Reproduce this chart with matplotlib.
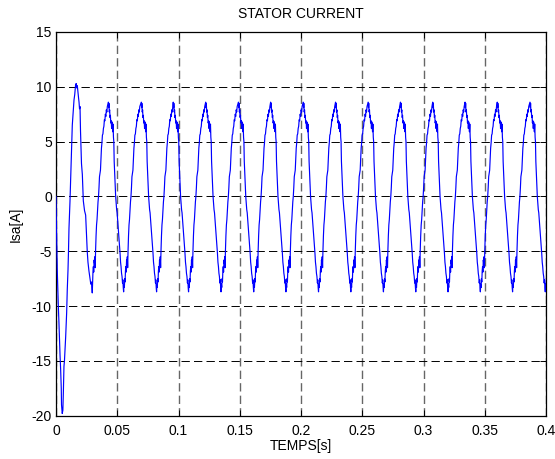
import matplotlib
matplotlib.use('Agg')
import matplotlib.pyplot as plt

plt.rcParams['font.family'] = ['Liberation Sans', 'DejaVu Sans']
plt.rcParams['lines.scale_dashes'] = False

# start-up transient (time in s, current in A)
t_start = [0, 0.0004, 0.0011, 0.0019, 0.0024, 0.0033, 0.0038, 0.0043, 0.0045, 0.0051,
           0.0056, 0.0060, 0.0065, 0.0069, 0.0079, 0.0087, 0.0092, 0.0098, 0.0102, 0.0106,
           0.0114, 0.0120, 0.0125, 0.0129, 0.0133, 0.0139, 0.0147, 0.0153, 0.0157, 0.0160,
           0.0165, 0.0169, 0.0174, 0.0180, 0.0184, 0.0188, 0.0192, 0.0196, 0.0200, 0.0204,
           0.0208, 0.0215, 0.0223, 0.0233, 0.0242, 0.0249, 0.0255, 0.0261, 0.0269, 0.0278,
           0.0284, 0.0290, 0.0296]
i_start = [0, -3.0, -7.0, -10.0, -11.5, -14.5, -15.8, -17.5, -19.0, -19.8,
           -19.5, -17.9, -15.5, -15.0, -12.8, -10.6, -8.5, -6.7, -5.0, -2.9,
           -0.5, 1.8, 3.5, 5.0, 6.5, 7.5, 8.8, 9.3, 9.8, 10.2,
           10.3, 9.9, 10.1, 9.4, 9.0, 8.6, 8.0, 8.2, 6.0, 4.5,
           3.0, 2.0, -0.4, -1.3, -1.7, -3.5, -5.0, -6.0, -6.8, -7.5,
           -8.0, -7.8, -8.8]

# times of the positive peaks of the steady-state current (s)
peak_times = [0.0162, 0.0427, 0.0696, 0.0957, 0.1222, 0.1489, 0.1752, 0.2018,
              0.2282, 0.2548, 0.2812, 0.3075, 0.3339, 0.3602, 0.3869]

# shape of one steady-state period, offsets from its peak (ms) and current (A)
cycle_offset_ms = [0.0, 0.3, 0.5, 0.8, 1.1, 1.4, 1.7, 2.0, 2.4, 2.7, 3.0, 3.3, 3.6, 3.9,
                   4.2, 4.5, 4.8, 5.1, 5.5, 6.0, 6.4, 6.8, 7.2, 7.6, 8.0, 8.4, 8.8, 9.2,
                   9.6, 10.0, 10.4, 10.8, 11.2, 11.6, 11.9, 12.2, 12.5, 12.8, 13.1, 13.4,
                   13.7, 14.0, 14.3, 14.6, 14.9, 15.2, 15.5, 15.8, 16.1, 16.5, 16.9, 17.3,
                   17.7, 18.1, 18.5, 18.9, 19.3, 19.7, 20.1, 20.5, 20.9, 21.3, 21.7, 22.1,
                   22.5, 22.9, 23.3, 23.7, 24.1, 24.5, 24.9, 25.3, 25.7]
cycle_current = [8.6, 8.1, 8.5, 7.7, 7.9, 7.2, 7.4, 6.7, 6.9, 6.2, 6.8, 6.4, 5.9, 6.6,
                 5.4, 5.0, 3.2, 2.4, 1.2, 0.0, -0.6, -1.2, -1.5, -2.1, -2.6, -3.4, -3.8, -4.6,
                 -5.2, -6.0, -6.4, -7.0, -7.3, -7.9, -7.6, -8.3, -8.7, -8.0, -8.3, -7.5,
                 -7.8, -6.8, -6.4, -6.9, -5.8, -6.1, -5.5, -6.5, -5.0, -3.6, -2.6, -2.1,
                 -1.2, -0.5, 0.0, 0.8, 1.8, 2.1, 2.4, 3.5, 4.4, 4.9, 5.6, 5.7,
                 6.2, 6.4, 7.0, 6.9, 7.5, 7.3, 7.9, 7.7, 8.2]

x_ticks = [0, 0.05, 0.1, 0.15, 0.2, 0.25, 0.3, 0.35, 0.4]
x_tick_labels = ['0', '0.05', '0.1', '0.15', '0.2', '0.25', '0.3', '0.35', '0.4']
y_ticks = [-20, -15, -10, -5, 0, 5, 10, 15]
y_tick_labels = ['-20', '-15', '-10', '-5', '0', '5', '10', '15']

# assemble the trace
pts = list(zip(t_start, i_start))
for tp in peak_times:
    for off, v in zip(cycle_offset_ms, cycle_current):
        tt = tp + off / 1000.0
        if tt > t_start[-1]:
            pts.append((tt, v))
pts.sort()
t = [p[0] for p in pts]
i = [p[1] for p in pts]

fig = plt.figure(figsize=(5.55, 4.59), dpi=100)
ax = fig.add_axes([0.1009, 0.0943, 0.8829, 0.8360])

ax.plot(t, i, color='#0000ff', linewidth=0.85, zorder=3)

ax.set_xlim(0, 0.4)
ax.set_ylim(-20, 15)
ax.set_xticks(x_ticks)
ax.set_xticklabels(x_tick_labels)
ax.set_yticks(y_ticks)
ax.set_yticklabels(y_tick_labels)

ax.xaxis.grid(True, color='#666666', linewidth=1.0, linestyle=(0, (6, 3)), zorder=1)
ax.yaxis.grid(True, color='black', linewidth=0.7, linestyle=(0, (6, 3)), zorder=1)

ax.tick_params(direction='in', top=True, right=True, length=4, width=0.7,
               labelsize=10, colors='black')
ax.tick_params(axis='x', pad=6)
ax.tick_params(axis='y', pad=3)
for s in ax.spines.values():
    s.set_linewidth(0.9)
    s.set_color('black')

ax.set_title('STATOR CURRENT', fontsize=10, pad=10)
ax.set_xlabel('TEMPS[s]', fontsize=10, labelpad=1)
ax.set_ylabel('Isa[A]', fontsize=10, labelpad=6)

fig.savefig('out.png', dpi=100, facecolor='white')
